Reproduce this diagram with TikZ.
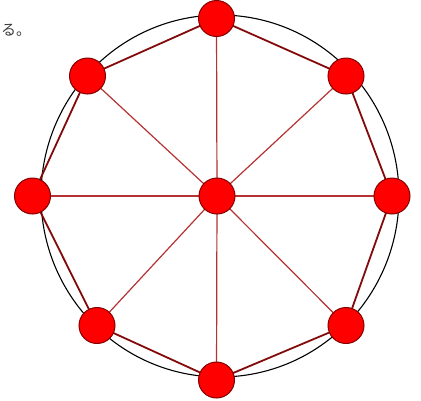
\documentclass[tikz,border=0pt]{standalone}
\usepackage{fontspec}
\usetikzlibrary{backgrounds}
\newfontfamily\cjk{Noto Sans CJK JP}
\begin{document}
\begin{tikzpicture}[x=1pt,y=-1pt,
  vert/.style={circle,draw={rgb,255:red,130;green,0;blue,0},fill={rgb,255:red,255;green,0;blue,0},line width=1pt,minimum size=36pt,inner sep=0pt},
  rim/.style={draw={rgb,255:red,130;green,10;blue,10},line width=1.8pt},
  spoke/.style={draw={rgb,255:red,180;green,50;blue,50},line width=1.2pt},
  guide/.style={draw=black,line width=1.1pt}]
\useasboundingbox (0,0) rectangle (421,400);
\node[vert] (c)  at (217,196) {};
\node[vert] (n)  at (216.5,18.5) {};
\node[vert] (ne) at (346,76) {};
\node[vert] (e)  at (392,196) {};
\node[vert] (se) at (346,325.5) {};
\node[vert] (s)  at (216.5,380) {};
\node[vert] (sw) at (97,325.5) {};
\node[vert] (w)  at (32.5,196) {};
\node[vert] (nw) at (87.5,76) {};
\node[anchor=west,inner sep=0pt,text={rgb,255:red,60;green,60;blue,60},font=\cjk\fontsize{15pt}{15pt}\selectfont] (t) at (1,30) {る。};
\begin{scope}[on background layer]
\draw[guide] (220,196) ellipse [x radius=179, y radius=181];
\foreach \a/\b in {n/ne,ne/e,e/se,se/s,s/sw,sw/w,w/nw,nw/n}{\path[rim] (\a.center) -- (\b.center);}
\foreach \a in {n,ne,e,se,s,sw,w,nw}{\path[spoke] (c.center) -- (\a.center);}
\end{scope}
\end{tikzpicture}
\end{document}
